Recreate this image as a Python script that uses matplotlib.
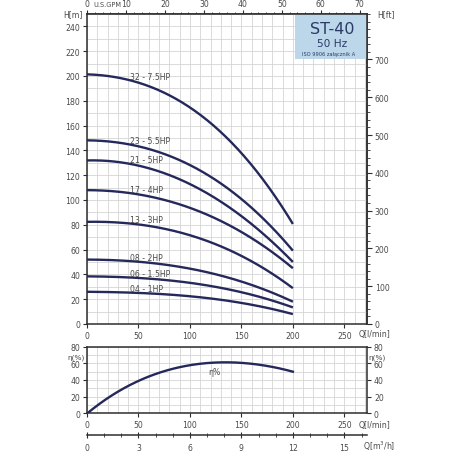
import numpy as np
import matplotlib
matplotlib.use("Agg")
import matplotlib.pyplot as plt
from matplotlib.ticker import MultipleLocator, FixedLocator
from matplotlib.patches import Rectangle

# ---------------- data ----------------
flow = [0, 25, 50, 75, 100, 125, 150, 175, 200]          # Q [l/min]
curve_labels = ["32 - 7.5HP", "23 - 5.5HP", "21 - 5HP", "17 - 4HP",
                "13 - 3HP", "08 - 2HP", "06 - 1.5HP", "04 - 1HP"]
head_32 = [201, 199.5, 195.5, 187, 173, 158, 138.5, 113, 80]
head_23 = [148, 147, 143.5, 137, 128, 116, 101, 82, 59]
head_21 = [132, 131, 127.5, 122, 113, 101, 87, 70, 50]
head_17 = [108, 107, 104.5, 100, 94, 85, 74, 61, 45]
head_13 = [82.5, 82, 80, 77, 72, 64, 55, 43, 29]
head_08 = [52, 51.5, 50, 48, 45, 40, 34, 27, 18]
head_06 = [38.5, 38, 37, 35.5, 33.5, 30, 25.5, 20, 13.5]
head_04 = [26, 25.7, 25, 24, 22.5, 20, 17, 13, 8]
heads = [head_32, head_23, head_21, head_17, head_13, head_08, head_06, head_04]
efficiency = [0, 21, 40, 51, 57, 60.5, 61.5, 56.5, 50]   # eta [%]

h_ticks = [0, 20, 40, 60, 80, 100, 120, 140, 160, 180, 200, 220, 240]
q_ticks = [0, 50, 100, 150, 200, 250]
gpm_ticks = [0, 10, 20, 30, 40, 50, 60, 70]
ft_ticks = [0, 100, 200, 300, 400, 500, 600, 700]
eta_ticks = [0, 20, 40, 60, 80]
m3h_ticks = [0, 3, 6, 9, 12, 15]

title_model = "ST-40"
title_freq = "50 Hz"
title_norm = "ISO 9906 załącznik A"

# ---------------- style ----------------
CURVE = "#25285a"
TXT = "#4a4a4a"
GRID = "#d4d4d4"
SPINE = "#2e2e2e"
FS = 5.6
W = H = 452.0
QMAX = 272


def box(l, t, r, b):
    return [l / W, 1 - b / H, (r - l) / W, (b - t) / H]


def smooth(x, y, deg):
    """Least-squares smoothing of the read points (drawing only)."""
    c = np.polyfit(x, y, deg)
    xs = np.linspace(min(x), max(x), 200)
    return xs, np.polyval(c, xs)


fig = plt.figure(figsize=(4.52, 4.52), dpi=100)
fig.patch.set_facecolor("white")

# ---------------- main H-Q axes ----------------
ax = fig.add_axes(box(87, 15, 367, 325))
ax.set_xlim(0, QMAX)
ax.set_ylim(0, 250)
ax.xaxis.set_major_locator(FixedLocator(q_ticks))
ax.xaxis.set_minor_locator(MultipleLocator(10))
ax.yaxis.set_major_locator(FixedLocator(h_ticks))
ax.yaxis.set_minor_locator(MultipleLocator(10))
ax.grid(True, which="both", color=GRID, lw=0.6)
ax.set_axisbelow(True)
ax.tick_params(which="major", direction="out", length=3, width=0.8,
               color=SPINE, labelsize=FS, labelcolor=TXT, pad=2)
ax.tick_params(which="minor", length=0)
for s in ax.spines.values():
    s.set_color(SPINE)
    s.set_linewidth(1.1)

for lab, hv in zip(curve_labels, heads):
    xs, ys = smooth(flow, hv, 3)
    ax.plot(xs, ys, color=CURVE, lw=1.7, solid_capstyle="butt", zorder=3)
    y42 = np.interp(42, xs, ys)
    ax.text(42, y42 + 3.2, lab, fontsize=FS, color=TXT, va="center", ha="left", zorder=4)

# title box
ax.add_patch(Rectangle((202, 214), QMAX - 202, 36, facecolor="#bcd6ea",
                       edgecolor="none", zorder=2))
ax.text(238, 238.5, title_model, fontsize=11.5, color="#2b3a67", ha="center", va="center", zorder=5)
ax.text(238, 226.8, title_freq, fontsize=7.6, color="#2b3a67", ha="center", va="center", zorder=5)
ax.text(235, 217.8, title_norm, fontsize=3.6, color="#2b3a67", ha="center", va="center", zorder=5)

# top GPM axis
secx = ax.secondary_xaxis("top", functions=(lambda q: q / 3.785, lambda g: g * 3.785))
secx.xaxis.set_major_locator(FixedLocator(gpm_ticks))
secx.xaxis.set_minor_locator(MultipleLocator(2))
secx.tick_params(which="major", direction="out", length=3, width=0.8, color=SPINE,
                 labelsize=FS, labelcolor=TXT, pad=1.5)
secx.tick_params(which="minor", direction="out", length=1.8, width=0.6, color=SPINE)
secx.spines["top"].set_color(SPINE)
secx.spines["top"].set_linewidth(1.1)

# right ft axis
secy = ax.secondary_yaxis("right", functions=(lambda m: m * 3.2808, lambda f: f / 3.2808))
secy.yaxis.set_major_locator(FixedLocator(ft_ticks))
secy.yaxis.set_minor_locator(MultipleLocator(20))
secy.tick_params(which="major", direction="out", length=3.5, width=0.8, color=SPINE,
                 labelsize=FS, labelcolor=TXT, pad=2)
secy.tick_params(which="minor", direction="out", length=2, width=0.6, color=SPINE)
secy.spines["right"].set_color(SPINE)
secy.spines["right"].set_linewidth(1.1)

fig.text(63 / W, 1 - 15 / H, "H[m]", fontsize=FS, color=TXT, va="center", ha="left")
fig.text(377 / W, 1 - 15 / H, "H[ft]", fontsize=FS, color=TXT, va="center", ha="left")
fig.text(93 / W, 1 - 5 / H, "U.S.GPM", fontsize=FS - 0.8, color=TXT, va="center", ha="left")
fig.text(359 / W, 1 - 335 / H, "Q[l/min]", fontsize=FS, color=TXT, va="center", ha="left")

# ---------------- efficiency axes ----------------
ax2 = fig.add_axes(box(87, 347.7, 367, 414.3))
ax2.set_xlim(0, QMAX)
ax2.set_ylim(0, 80)
ax2.xaxis.set_major_locator(FixedLocator(q_ticks))
ax2.xaxis.set_minor_locator(MultipleLocator(10))
ax2.yaxis.set_major_locator(FixedLocator(eta_ticks))
ax2.yaxis.set_minor_locator(MultipleLocator(10))
ax2.grid(True, which="both", color=GRID, lw=0.6)
ax2.set_axisbelow(True)
ax2.yaxis.set_ticks_position("both")
ax2.tick_params(which="major", direction="out", length=3, width=0.8, color=SPINE,
                labelsize=FS, labelcolor=TXT, pad=2, labelright=True)
ax2.tick_params(which="minor", length=0)
for s in ax2.spines.values():
    s.set_color(SPINE)
    s.set_linewidth(1.1)
xs, ys = smooth(flow, efficiency, 4)
ax2.plot(xs, ys, color=CURVE, lw=1.7, zorder=3)
ax2.text(124, 50, "η%", fontsize=FS, color=TXT, ha="center", va="center")
fig.text(67 / W, 1 - 357.5 / H, "η(%)", fontsize=FS - 0.3, color=TXT, va="center", ha="left")
fig.text(368 / W, 1 - 357.5 / H, "η(%)", fontsize=FS - 0.3, color=TXT, va="center", ha="left")
fig.text(359 / W, 1 - 425.5 / H, "Q[l/min]", fontsize=FS, color=TXT, va="center", ha="left")

# ---------------- m3/h axis ----------------
ax3 = fig.add_axes([87 / W, 1 - 436 / H, 280 / W, 0.0001])
ax3.set_xlim(0, QMAX * 0.06)
ax3.set_yticks([])
ax3.patch.set_alpha(0)
for k in ("top", "left", "right"):
    ax3.spines[k].set_visible(False)
ax3.spines["bottom"].set_color(SPINE)
ax3.spines["bottom"].set_linewidth(1.1)
ax3.xaxis.set_major_locator(FixedLocator(m3h_ticks))
ax3.xaxis.set_minor_locator(MultipleLocator(1))
ax3.tick_params(which="major", direction="inout", length=5, width=0.8, color=SPINE,
                labelsize=FS, labelcolor=TXT, pad=3)
ax3.tick_params(which="minor", direction="inout", length=2.5, width=0.6, color=SPINE)
fig.text(363 / W, 1 - 446 / H, "Q[m$^3$/h]", fontsize=FS, color=TXT, va="center", ha="left")

fig.savefig("out.png", dpi=100, facecolor="white")
